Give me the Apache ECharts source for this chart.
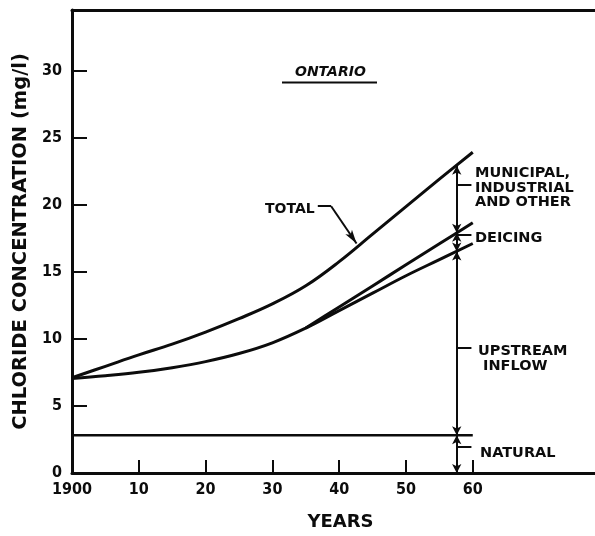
<!DOCTYPE html>
<html>
<head>
<meta charset="utf-8">
<script src="https://cdn.jsdelivr.net/npm/echarts@6/dist/echarts.min.js"></script>
<style>
  html, body { margin: 0; padding: 0; background: #fff; }
  #chart { width: 595px; height: 536px; }
</style>
</head>
<body>
<div id="chart"></div>
<script>
// Chloride concentration in Lake Ontario, 1900-1960 (mg/l)
const years     = [1900, 1905, 1910, 1915, 1920, 1925, 1930, 1935, 1940, 1945, 1950, 1955, 1960];
const total     = [7.1, 7.95, 8.8, 9.6, 10.5, 11.5, 12.6, 13.95, 15.75, 17.8, 19.85, 21.9, 23.9];
const upstream  = [7.05, 7.25, 7.5, 7.85, 8.3, 8.9, 9.7, 10.8, 12.1, 13.4, 14.7, 15.9, 17.1];
const deicingYears = [1935, 1940, 1945, 1950, 1955, 1960];
const deicing   = [10.8, 12.37, 13.94, 15.51, 17.08, 18.65];
const naturalYears = [1900, 1960];
const natural   = [2.82, 2.82];

// Tick labels
const xTickValues = [1900, 1910, 1920, 1930, 1940, 1950, 1960];
const xTickLabels = ['1900', '10', '20', '30', '40', '50', '60'];
const yTickValues = [0, 5, 10, 15, 20, 25, 30];

// Dimension line showing the make-up of the 1957 concentration
const dimYear  = 1957.6;
const dimStops = [0, 2.82, 16.5, 17.9, 22.9];
// Where each component's label leader meets the dimension line
const leaderValues = [21.45, 17.75, 9.37, 1.94];
// "TOTAL" pointer: elbow then arrow down onto the curve
const totalPointer = [[1936.8, 19.88], [1938.8, 19.88], [1942.6, 17.1]];

const pair = (a) => years.map((y, i) => [y, a[i]]);
const ink = '#0c0c0c';
const tickFont = "'DejaVu Sans Condensed', 'DejaVu Sans', sans-serif";
const labelFont = "'DejaVu Sans', sans-serif";

const markSegments = [];
for (let i = 0; i < dimStops.length - 1; i++) {
  markSegments.push([
    { coord: [dimYear, dimStops[i]], symbol: 'arrow' },
    { coord: [dimYear, dimStops[i + 1]], symbol: 'arrow' }
  ]);
}
leaderValues.forEach(v => {
  markSegments.push([
    { coord: [dimYear, v], symbol: 'none' },
    { coord: [dimYear + 2.2, v], symbol: 'none' }
  ]);
});
markSegments.push([
  { coord: totalPointer[0], symbol: 'none' },
  { coord: totalPointer[1], symbol: 'none' }
]);
markSegments.push([
  { coord: totalPointer[1], symbol: 'none' },
  { coord: totalPointer[2], symbol: 'arrow', symbolSize: [6, 14] }
]);

const lineStyle = w => ({ color: ink, width: w });

const option = {
  animation: false,
  backgroundColor: '#fff',
  grid: { left: 72, right: 0, top: 10, bottom: 57, containLabel: false },
  xAxis: [
    {
      type: 'value', min: 1900, max: 1978.3, interval: 10,
      name: 'YEARS', nameLocation: 'middle', nameGap: 40,
      nameTextStyle: { color: ink, fontFamily: labelFont, fontWeight: 'bold', fontSize: 18, padding: [0, 0, 0, 14] },
      axisLine: { lineStyle: { color: ink, width: 3 } },
      axisTick: { inside: true, length: 13, lineStyle: { color: ink, width: 2 },
                  customValues: xTickValues.slice(1) },
      axisLabel: {
        customValues: xTickValues, margin: 9,
        color: ink, fontFamily: tickFont, fontWeight: 'bold', fontSize: 16,
        formatter: v => xTickLabels[xTickValues.indexOf(v)]
      },
      splitLine: { show: false }
    },
    {
      type: 'value', position: 'top', min: 1900, max: 1978.3,
      axisLine: { show: true, lineStyle: { color: ink, width: 3 } },
      axisTick: { show: false }, axisLabel: { show: false }, splitLine: { show: false }
    }
  ],
  yAxis: {
    type: 'value', min: 0, max: 34.5, interval: 5,
    name: 'CHLORIDE CONCENTRATION (mg/l)', nameLocation: 'middle', nameGap: 41,
    nameTextStyle: { color: ink, fontFamily: labelFont, fontWeight: 'bold', fontSize: 19.5 },
    axisLine: { show: true, lineStyle: { color: ink, width: 3 } },
    axisTick: { inside: true, length: 15, lineStyle: { color: ink, width: 2 },
                customValues: yTickValues.slice(1) },
    axisLabel: { customValues: yTickValues, margin: 10, color: ink,
                 fontFamily: tickFont, fontWeight: 'bold', fontSize: 16 },
    splitLine: { show: false }
  },
  series: [
    { name: 'Total', type: 'line', data: pair(total), smooth: 0.4, symbol: 'none',
      lineStyle: lineStyle(3), silent: true },
    { name: 'Upstream inflow', type: 'line', data: pair(upstream), smooth: 0.4, symbol: 'none',
      lineStyle: lineStyle(3), silent: true },
    { name: 'Deicing', type: 'line', data: deicingYears.map((y, i) => [y, deicing[i]]),
      smooth: 0.3, symbol: 'none', lineStyle: lineStyle(3), silent: true },
    { name: 'Natural', type: 'line', data: naturalYears.map((y, i) => [y, natural[i]]),
      symbol: 'none', lineStyle: lineStyle(2.5), silent: true,
      markLine: {
        silent: true, symbolSize: [7, 9],
        label: { show: false },
        lineStyle: { color: ink, width: 2, type: 'solid' },
        emphasis: { disabled: true },
        data: markSegments
      }
    }
  ],
  graphic: [
    { type: 'text', x: 295, y: 72, style: { text: 'ONTARIO', fill: ink, align: 'left', verticalAlign: 'middle',
      font: "italic bold 14px 'DejaVu Sans', sans-serif" } },
    { type: 'line', shape: { x1: 282, y1: 82.5, x2: 377, y2: 82.5 }, style: { stroke: ink, lineWidth: 2 } },
    { type: 'text', x: 265, y: 209, style: { text: 'TOTAL', fill: ink, align: 'left', verticalAlign: 'middle',
      font: "bold 14px 'DejaVu Sans', sans-serif" } },
    { type: 'text', x: 475, y: 166, style: { text: 'MUNICIPAL,\nINDUSTRIAL\nAND OTHER', fill: ink,
      align: 'left', verticalAlign: 'top', lineHeight: 14.5,
      font: "bold 14.5px 'DejaVu Sans', sans-serif" } },
    { type: 'text', x: 475, y: 238, style: { text: 'DEICING', fill: ink, align: 'left', verticalAlign: 'middle',
      font: "bold 14.5px 'DejaVu Sans', sans-serif" } },
    { type: 'text', x: 478, y: 344, style: { text: 'UPSTREAM\n INFLOW', fill: ink, align: 'left', verticalAlign: 'top',
      lineHeight: 15, font: "bold 14.5px 'DejaVu Sans', sans-serif" } },
    { type: 'text', x: 480, y: 453, style: { text: 'NATURAL', fill: ink, align: 'left', verticalAlign: 'middle',
      font: "bold 14.5px 'DejaVu Sans', sans-serif" } }
  ]
};

const chart = echarts.init(document.getElementById('chart'), null, { renderer: 'canvas' });
chart.setOption(option);
</script>
</body>
</html>
